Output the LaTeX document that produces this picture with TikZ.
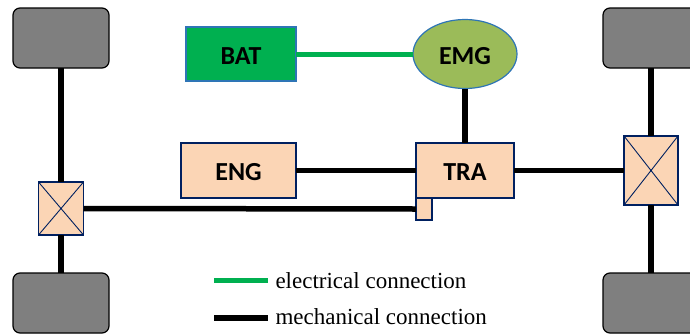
\documentclass[tikz,border=0pt]{standalone}
\usepackage{fontspec}
\setmainfont{Liberation Serif}
\newfontfamily\labelfont{Carlito}
\usetikzlibrary{shapes.geometric}
\definecolor{wheelgray}{HTML}{7F7F7F}
\definecolor{peach}{HTML}{FBD5B5}
\definecolor{navy}{HTML}{002060}
\definecolor{batgreen}{HTML}{00B050}
\definecolor{emggreen}{HTML}{9BBB59}
\definecolor{edgeblue}{HTML}{2E75B6}
\tikzset{
  x=1pt,y=-1pt,
  every node/.style={inner sep=0pt,outer sep=0pt},
  boxlabel/.style={font=\labelfont\bfseries\fontsize{26}{26}\selectfont,text height=20pt,text depth=0pt},
  wheel/.style={draw=black,fill=wheelgray,line width=1.2pt,rounded corners=7pt,minimum width=96pt,minimum height=60pt},
  peachbox/.style={draw=navy,fill=peach,line width=1.2pt,boxlabel},
  diffbox/.style={draw=navy,fill=peach,line width=1.2pt},
  crossline/.style={draw=navy,line width=0.9pt},
  greenbox/.style={draw=edgeblue,fill=batgreen,line width=1.2pt,boxlabel},
  emgshape/.style={ellipse,draw=edgeblue,fill=emggreen,line width=1.2pt,boxlabel},
  mech/.style={draw=black,line width=5.5pt},
  elec/.style={draw=batgreen,line width=5pt},
  legendtext/.style={anchor=base west,font=\fontsize{23}{23}\selectfont}
}
\begin{document}
\begin{tikzpicture}
\useasboundingbox (0,0) rectangle (690,335);
\clip (0,0) rectangle (690,335);
\node[wheel] (wlt) at (61,38) {};
\node[wheel] (wlb) at (61,303) {};
\node[wheel] (wrt) at (651,38) {};
\node[wheel] (wrb) at (651,303) {};
\node[diffbox,minimum width=45pt,minimum height=53pt] (ld) at (61,208.5) {};
\node[diffbox,minimum width=54pt,minimum height=69pt] (rd) at (651,170.5) {};
\node[greenbox,minimum width=110pt,minimum height=54pt] (bat) at (241,54) {BAT};
\node[emgshape,minimum width=104pt,minimum height=69pt] (emg) at (465,54) {EMG};
\node[peachbox,minimum width=115pt,minimum height=55pt] (eng) at (238.5,170.5) {ENG};
\node[peachbox,minimum width=98pt,minimum height=55pt] (tra) at (465,170.5) {TRA};
\node[diffbox,minimum width=16pt,minimum height=22pt] (aux) at (424,209) {};
\draw[crossline] (ld.north west) -- (ld.south east) (ld.north east) -- (ld.south west);
\draw[crossline] (rd.north west) -- (rd.south east) (rd.north east) -- (rd.south west);
\draw[mech] (wlt.south) -- (ld.north);
\draw[mech] (ld.south) -- (wlb.north);
\draw[mech] (wrt.south) -- (rd.north);
\draw[mech] (rd.south) -- (wrb.north);
\draw[mech] (ld.east) -- (aux.west);
\draw[mech] (eng.east) -- (tra.west);
\draw[mech] (tra.east) -- (rd.west);
\draw[mech] (emg.south) -- (tra.north);
\draw[elec] (bat.east) -- (emg.west);
\coordinate (lea) at (214,280);
\coordinate (leb) at (268,280);
\coordinate (lma) at (214,318);
\coordinate (lmb) at (268,318);
\draw[elec] (lea) -- (leb);
\draw[mech] (lma) -- (lmb);
\node[legendtext] (te) at (275.5,288.5) {electrical connection};
\node[legendtext] (tm) at (275.5,324) {mechanical connection};
\end{tikzpicture}
\end{document}
